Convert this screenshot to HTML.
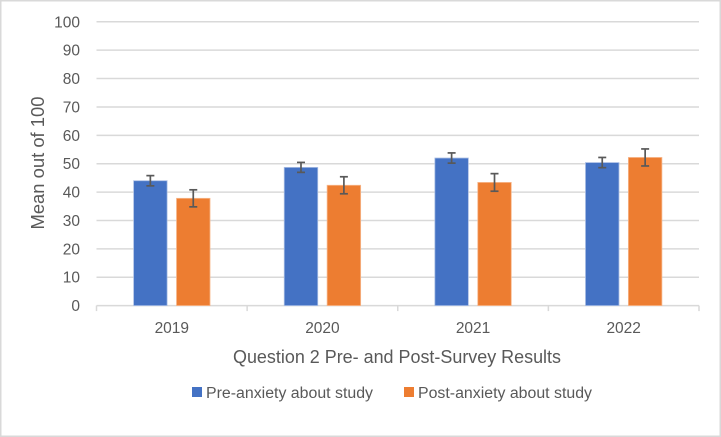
<!DOCTYPE html>
<html>
<head>
<meta charset="utf-8">
<style>
html,body{margin:0;padding:0;background:#fff;}
svg{display:block;}
text{font-family:"Liberation Sans",sans-serif;fill:#595959;}
</style>
</head>
<body>
<svg id="chart" width="721" height="437" viewBox="0 0 721 437" xmlns="http://www.w3.org/2000/svg">
  <rect x="0.75" y="0.75" width="719.5" height="435.5" fill="#fff" stroke="#d9d9d9" stroke-width="1.5"/>
  <g id="grid"></g>
  <g id="yticks"></g>
  <g id="axis"></g>
  <g id="bars"></g>
  <g id="errs"></g>
  <g id="xticks"></g>
  <text transform="translate(44 163) rotate(-90)" text-anchor="middle" font-size="18" textLength="133" lengthAdjust="spacingAndGlyphs">Mean out of 100</text>
  <text x="397" y="363" text-anchor="middle" font-size="18" textLength="328" lengthAdjust="spacingAndGlyphs">Question 2 Pre- and Post-Survey Results</text>
  <rect x="192" y="387" width="10" height="10" fill="#4472c4"/>
  <text x="206" y="398" font-size="15.5" textLength="167" lengthAdjust="spacingAndGlyphs">Pre-anxiety about study</text>
  <rect x="404" y="387" width="10" height="10" fill="#ed7d31"/>
  <text x="418" y="398" font-size="15.5" textLength="174" lengthAdjust="spacingAndGlyphs">Post-anxiety about study</text>
</svg>
<script>
const categories = ['2019', '2020', '2021', '2022'];
const preValues = [44, 48.7, 52, 50.4];
const postValues = [37.8, 42.4, 43.4, 52.2];
const preErrors = [1.8, 1.75, 1.8, 1.8];
const postErrors = [3, 3, 3.1, 3];
const yTicks = [0, 10, 20, 30, 40, 50, 60, 70, 80, 90, 100];

const NS = 'http://www.w3.org/2000/svg';
const plotLeft = 96.5, plotRight = 699, plotTop = 21.8, plotBottom = 305.6;
const barWidth = 33.5, barGap = 9.4;
const yMax = 100;
const y = v => plotBottom - (v / yMax) * (plotBottom - plotTop);
const band = (plotRight - plotLeft) / categories.length;
const xCenter = i => plotLeft + band * (i + 0.5);
function make(tag, attrs, parent, text) {
  const el = document.createElementNS(NS, tag);
  for (const k in attrs) el.setAttribute(k, attrs[k]);
  if (text !== undefined) el.textContent = text;
  parent.appendChild(el);
  return el;
}
const grid = document.getElementById('grid');
const yt = document.getElementById('yticks');
yTicks.forEach(t => {
  if (t !== 0) {
    const g = make('line', {x1: plotLeft, x2: plotRight, y1: y(t), y2: y(t), stroke: '#d9d9d9', 'stroke-width': 1.5}, grid);
    
    
  }
  const l = make('text', {x: 80, y: y(t) + 5.5, 'text-anchor': 'end', 'font-size': 15.5}, yt, String(t));
  
  
});
const axis = document.getElementById('axis');
const axisLine = make('line', {x1: plotLeft, x2: plotRight, y1: plotBottom, y2: plotBottom, stroke: '#d9d9d9', 'stroke-width': 1.5}, axis);


for (let i = 0; i <= categories.length; i++) {
  const tx = plotLeft + band * i;
  const tick = make('line', {x1: tx, x2: tx, y1: plotBottom, y2: plotBottom + 5.5, stroke: '#d9d9d9', 'stroke-width': 1.5}, axis);
  
  
}
const bars = document.getElementById('bars');
const errs = document.getElementById('errs');
const xt = document.getElementById('xticks');
function drawBar(x, v, fill, edge, name) {
  const b = make('rect', {x: x, y: y(v), width: barWidth, height: plotBottom - y(v), fill: fill, stroke: edge, 'stroke-width': 0.8}, bars);
  
  
}
function drawErr(cx, v, e) {
  const g = make('g', {stroke: '#595959', 'stroke-width': 1.7, fill: 'none'}, errs);
  
  
  make('line', {x1: cx, x2: cx, y1: y(v + e), y2: y(v - e)}, g);
  make('line', {x1: cx - 4, x2: cx + 4, y1: y(v + e), y2: y(v + e)}, g);
  make('line', {x1: cx - 4, x2: cx + 4, y1: y(v - e), y2: y(v - e)}, g);
}
categories.forEach((c, i) => {
  const cx = xCenter(i);
  const xPre = cx - barGap / 2 - barWidth;
  const xPost = cx + barGap / 2;
  drawBar(xPre, preValues[i], '#4472c4', '#a9bde4', 'bar-pre-' + c);
  drawBar(xPost, postValues[i], '#ed7d31', '#f7b78c', 'bar-post-' + c);
  drawErr(xPre + barWidth / 2, preValues[i], preErrors[i]);
  drawErr(xPost + barWidth / 2, postValues[i], postErrors[i]);
  const l = make('text', {x: cx, y: 333, 'text-anchor': 'middle', 'font-size': 15.5}, xt, c);
  
  
});
</script>
</body>
</html>
